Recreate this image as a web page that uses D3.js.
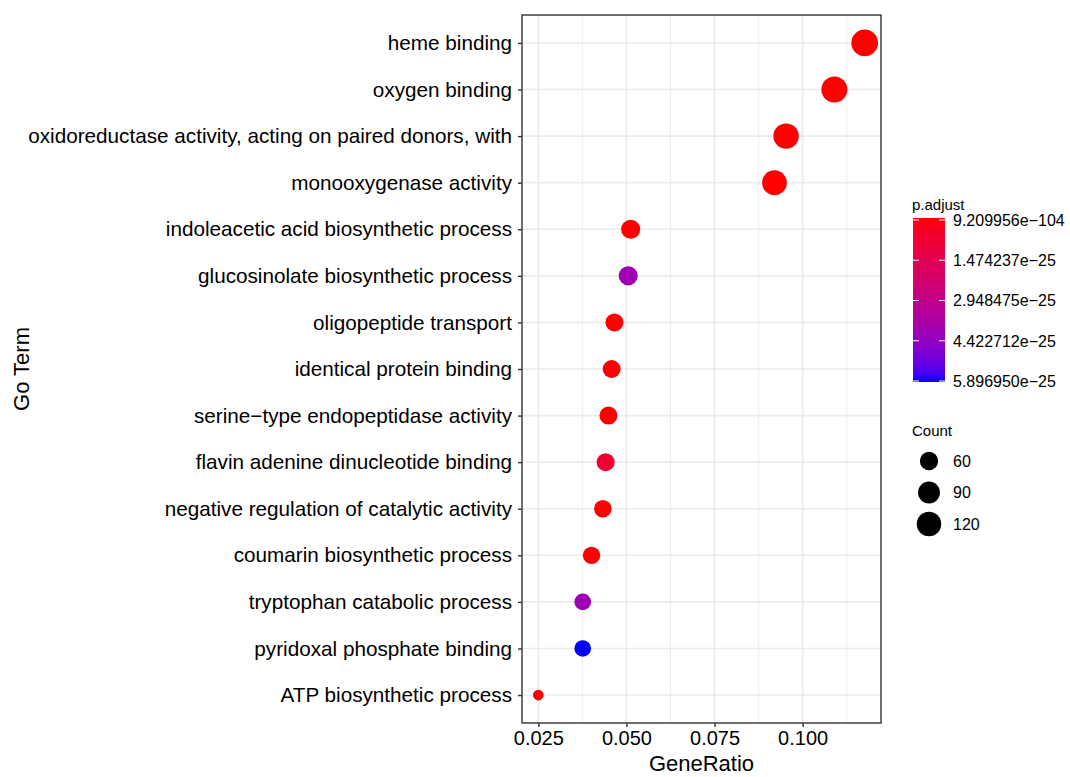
<!DOCTYPE html>
<html lang="en">
  <head>
    <meta charset="utf-8">
    <title>GO dot plot</title>
    <script src="https://cdn.jsdelivr.net/npm/d3@7"></script>
    <style>
      body { margin: 0; background: #fff; }
      text { font-family: "Liberation Sans", Arial, sans-serif; }
    </style>
  </head>
  <body>
    <script type="text/javascript">
    // data, top row first
    var terms = [
      "heme binding",
      "oxygen binding",
      "oxidoreductase activity, acting on paired donors, with",
      "monooxygenase activity",
      "indoleacetic acid biosynthetic process",
      "glucosinolate biosynthetic process",
      "oligopeptide transport",
      "identical protein binding",
      "serine\u2212type endopeptidase activity",
      "flavin adenine dinucleotide binding",
      "negative regulation of catalytic activity",
      "coumarin biosynthetic process",
      "tryptophan catabolic process",
      "pyridoxal phosphate binding",
      "ATP biosynthetic process"
    ];
    var geneRatio = [0.1176, 0.1090, 0.0953, 0.0920, 0.0512, 0.0505, 0.0466, 0.0458,
                     0.0449, 0.0441, 0.0433, 0.0401, 0.0376, 0.0376, 0.0250];
    var counts = [148, 139, 131, 123, 66, 66, 58, 58, 58, 58, 55, 54, 50, 50, 34];
    var pAdjust = [9.209956e-104, 3.1e-90, 2.4e-70, 5.6e-66, 1.2e-30, 4.05e-25, 8.7e-28,
                   2.1e-27, 6.3e-28, 7.4e-26, 1.1e-27, 3.3e-29, 4.1e-25, 5.896950e-25, 1.8e-27];

    var xTicks = [0.025, 0.050, 0.075, 0.100];
    var colorBreakLabels = ["9.209956e-104", "1.474237e-25", "2.948475e-25", "4.422712e-25", "5.896950e-25"];
    var sizeBreaks = [60, 90, 120];

    var w = 1070, h = 777;
    var panel = { left: 522, right: 881, top: 15, bottom: 723 };

    var svg = d3.select("body").append("svg")
                .attr("width", w)
                .attr("height", h);

    // scales
    var xMin = d3.min(geneRatio), xMax = d3.max(geneRatio);
    var xPad = (xMax - xMin) * 0.05;
    var xScale = d3.scaleLinear()
                   .domain([xMin - xPad, xMax + xPad])
                   .range([panel.left, panel.right]);

    var yScale = d3.scalePoint()
                   .domain(terms)
                   .range([panel.top, panel.bottom])
                   .padding(0.6);

    var pMin = d3.min(pAdjust), pMax = d3.max(pAdjust);
    var colorScale = d3.scaleLinear()
                       .domain([pMin, pMax])
                       .range(["red", "blue"])
                       .interpolate(d3.interpolateLab);

    var sizeT = d3.scaleLinear().domain(d3.extent(counts)).range([0, 1]);
    var rMin = 5.33, rMax = 13.33;
    function radius(c) { return rMin + (rMax - rMin) * Math.sqrt(Math.max(0, sizeT(c))); }

    // grid
    var minorX = [];
    for (var i = 0; i < xTicks.length; i++) {
      var m = xTicks[i] + 0.0125;
      if (m < xScale.domain()[1]) minorX.push(m);
    }
    svg.append("g").selectAll("line")
       .data(minorX).enter().append("line")
       .attr("x1", function(d) { return xScale(d); })
       .attr("x2", function(d) { return xScale(d); })
       .attr("y1", panel.top).attr("y2", panel.bottom)
       .attr("stroke", "#ebebeb").attr("stroke-width", 0.9);

    svg.append("g").selectAll("line")
       .data(xTicks).enter().append("line")
       .attr("x1", function(d) { return xScale(d); })
       .attr("x2", function(d) { return xScale(d); })
       .attr("y1", panel.top).attr("y2", panel.bottom)
       .attr("stroke", "#ebebeb").attr("stroke-width", 1.6);

    svg.append("g").selectAll("line")
       .data(terms).enter().append("line")
       .attr("x1", panel.left).attr("x2", panel.right)
       .attr("y1", function(d) { return yScale(d); })
       .attr("y2", function(d) { return yScale(d); })
       .attr("stroke", "#ebebeb").attr("stroke-width", 1.6);

    // points
    svg.append("g").selectAll("circle")
       .data(terms).enter().append("circle")
       .attr("cx", function(d, i) { return xScale(geneRatio[i]); })
       .attr("cy", function(d) { return yScale(d); })
       .attr("r", function(d, i) { return radius(counts[i]); })
       .attr("fill", function(d, i) { return colorScale(pAdjust[i]); });

    // panel border
    svg.append("rect")
       .attr("x", panel.left).attr("y", panel.top)
       .attr("width", panel.right - panel.left)
       .attr("height", panel.bottom - panel.top)
       .attr("fill", "none")
       .attr("stroke", "#333").attr("stroke-width", 1.4);

    // axes
    var xAxis = d3.axisBottom(xScale)
                  .tickValues(xTicks)
                  .tickFormat(d3.format(".3f"))
                  .tickSize(4)
                  .tickPadding(4);
    var gx = svg.append("g")
                .attr("transform", "translate(0," + panel.bottom + ")")
                .call(xAxis);
    gx.select(".domain").remove();
    gx.selectAll(".tick line").attr("stroke", "#333").attr("stroke-width", 1.4);
    gx.selectAll(".tick text")
      .attr("font-size", "20px").attr("fill", "#000")
      .attr("font-family", "Liberation Sans, Arial, sans-serif");

    var yAxis = d3.axisLeft(yScale).tickSize(4).tickPadding(6);
    var gy = svg.append("g")
                .attr("transform", "translate(" + panel.left + ",0)")
                .call(yAxis);
    gy.select(".domain").remove();
    gy.selectAll(".tick line").attr("stroke", "#333").attr("stroke-width", 1.4);
    gy.selectAll(".tick text")
      .attr("font-size", "20.7px").attr("fill", "#000")
      .attr("font-family", "Liberation Sans, Arial, sans-serif");

    // axis titles
    svg.append("text")
       .attr("x", (panel.left + panel.right) / 2)
       .attr("y", 771)
       .attr("text-anchor", "middle")
       .attr("font-size", "22px")
       .text("GeneRatio");

    svg.append("text")
       .attr("transform", "translate(29," + (panel.top + panel.bottom) / 2 + ") rotate(-90)")
       .attr("text-anchor", "middle")
       .attr("font-size", "22px")
       .text("Go Term");

    // colour legend
    var bar = { x: 913, y: 218, w: 32, h: 164 };
    svg.append("text")
       .attr("x", 912).attr("y", 210)
       .attr("font-size", "15px")
       .text("p.adjust");

    var grad = svg.append("defs").append("linearGradient")
                  .attr("id", "pgrad")
                  .attr("x1", 0).attr("y1", 0).attr("x2", 0).attr("y2", 1);
    d3.range(0, 21).forEach(function(k) {
      var t = k / 20;
      grad.append("stop")
          .attr("offset", t)
          .attr("stop-color", colorScale(pMin + t * (pMax - pMin)));
    });
    svg.append("rect")
       .attr("x", bar.x).attr("y", bar.y)
       .attr("width", bar.w).attr("height", bar.h)
       .attr("fill", "url(#pgrad)");

    var barScale = d3.scalePoint()
                     .domain(colorBreakLabels)
                     .range([bar.y + 2, bar.y + bar.h - 1]);
    var cTicks = svg.append("g").selectAll("g")
                    .data(colorBreakLabels).enter().append("g");
    cTicks.append("line")
          .attr("x1", bar.x).attr("x2", bar.x + 6)
          .attr("y1", function(d) { return barScale(d); })
          .attr("y2", function(d) { return barScale(d); })
          .attr("stroke", "#fff").attr("stroke-width", 1);
    cTicks.append("line")
          .attr("x1", bar.x + bar.w - 6).attr("x2", bar.x + bar.w)
          .attr("y1", function(d) { return barScale(d); })
          .attr("y2", function(d) { return barScale(d); })
          .attr("stroke", "#fff").attr("stroke-width", 1);
    cTicks.append("text")
          .attr("x", 953)
          .attr("y", function(d) { return barScale(d); })
          .attr("dy", "0.36em")
          .attr("font-size", "16px")
          .text(function(d) { return d.replace(/-/g, "\u2212"); });

    // size legend
    svg.append("text")
       .attr("x", 912).attr("y", 436)
       .attr("font-size", "15px")
       .text("Count");

    var sizeY = d3.scalePoint().domain(sizeBreaks).range([461, 524]);
    var sKeys = svg.append("g").selectAll("g")
                   .data(sizeBreaks).enter().append("g");
    sKeys.append("circle")
         .attr("cx", 929)
         .attr("cy", function(d) { return sizeY(d); })
         .attr("r", function(d) { return radius(d); })
         .attr("fill", "#000");
    sKeys.append("text")
         .attr("x", 953)
         .attr("y", function(d) { return sizeY(d); })
         .attr("dy", "0.36em")
         .attr("font-size", "16px")
         .text(function(d) { return d; });
    </script>
  </body>
</html>
